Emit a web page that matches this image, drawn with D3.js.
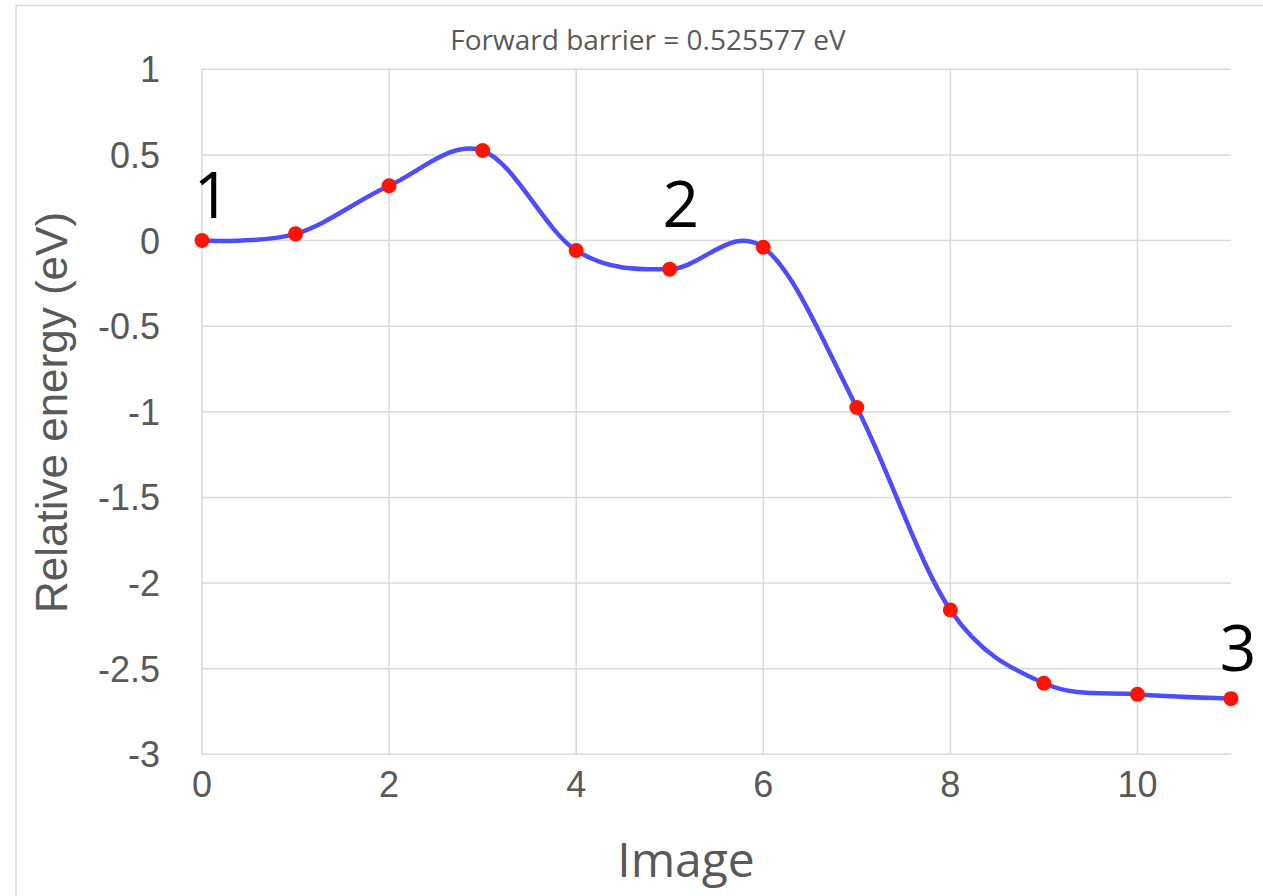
<!DOCTYPE html>
<html>
<head>
<meta charset="utf-8">
<script src="https://cdn.jsdelivr.net/npm/d3@7"></script>
<style>
  body { margin: 0; background: #fff; }
  svg { display: block; }
</style>
</head>
<body>
<svg id="chart" width="1263" height="896"></svg>
<script>
// image index along the path and relative energy (eV)
const images = [0, 1, 2, 3, 4, 5, 6, 7, 8, 9, 10, 11];
const energies = [0, 0.039, 0.32, 0.525577, -0.058, -0.167, -0.039, -0.975, -2.157, -2.585, -2.65, -2.675];
const xTicks = [0, 2, 4, 6, 8, 10];
const yTicks = [1, 0.5, 0, -0.5, -1, -1.5, -2, -2.5, -3];
const markImages = [0, 5, 11];
const markLabels = ["1", "2", "3"];
const chartTitle = "Forward barrier = 0.525577 eV";

function drawChart() {
	let svg = d3.select("#chart");
	let grid = "#d9d9d9";
	let textGrey = "#595959";

	let x = d3.scaleLinear().domain([0, 11]).range([202, 1231]);
	let y = d3.scaleLinear().domain([-3, 1]).range([754.3, 69.3]);

	// outer chart border (right and bottom run off the picture)
	svg.append("rect")
		.attr("x", 16).attr("y", 5.5)
		.attr("width", 1300).attr("height", 1000)
		.attr("fill", "none")
		.attr("stroke", grid)
		.attr("stroke-width", 1.5);

	// horizontal gridlines
	svg.append("g")
		.selectAll("line")
		.data(yTicks)
		.join("line")
			.attr("x1", x(0)).attr("x2", x(11))
			.attr("y1", d => y(d)).attr("y2", d => y(d))
			.attr("stroke", grid)
			.attr("stroke-width", 1.5);

	// vertical gridlines
	svg.append("g")
		.selectAll("line")
		.data(xTicks)
		.join("line")
			.attr("x1", d => x(d)).attr("x2", d => x(d))
			.attr("y1", y(1)).attr("y2", y(-3))
			.attr("stroke", grid)
			.attr("stroke-width", 1.5);

	// y tick labels
	svg.append("g")
		.selectAll("text")
		.data(yTicks)
		.join("text")
			.attr("x", 160)
			.attr("y", d => y(d))
			.attr("dy", "0.36em")
			.attr("text-anchor", "end")
			.attr("font-family", "'Liberation Sans', Arial, sans-serif")
			.attr("font-size", 36)
			.attr("fill", textGrey)
			.text(d => d);

	// x tick labels
	svg.append("g")
		.selectAll("text")
		.data(xTicks)
		.join("text")
			.attr("x", d => x(d))
			.attr("y", 797)
			.attr("text-anchor", "middle")
			.attr("font-family", "'Liberation Sans', Arial, sans-serif")
			.attr("font-size", 36)
			.attr("fill", textGrey)
			.text(d => d);

	// titles
	svg.append("text")
		.attr("x", 648).attr("y", 50)
		.attr("text-anchor", "middle")
		.attr("font-family", "'Open Sans', sans-serif")
		.attr("font-size", 28)
		.attr("fill", textGrey)
		.text(chartTitle);

	svg.append("text")
		.attr("x", 686).attr("y", 877)
		.attr("text-anchor", "middle")
		.attr("font-family", "'Open Sans', sans-serif")
		.attr("font-size", 48)
		.attr("fill", textGrey)
		.text("Image");

	svg.append("text")
		.attr("transform", "translate(67,412.5) rotate(-90)")
		.attr("text-anchor", "middle")
		.attr("font-family", "'Liberation Sans', Arial, sans-serif")
		.attr("font-size", 44)
		.attr("fill", textGrey)
		.text("Relative energy (eV)");

	let pts = images.map((d, i) => [d, energies[i]]);

	// smoothed line (Excel style smoothing ~ uniform Catmull-Rom)
	let line = d3.line()
		.x(d => x(d[0]))
		.y(d => y(d[1]))
		.curve(d3.curveCatmullRom.alpha(0));

	svg.append("path")
		.datum(pts)
		.attr("d", line)
		.attr("fill", "none")
		.attr("stroke", "#4d4dff")
		.attr("stroke-width", 4.5);

	svg.append("g")
		.selectAll("circle")
		.data(pts)
		.join("circle")
			.attr("cx", d => x(d[0]))
			.attr("cy", d => y(d[1]))
			.attr("r", 7.5)
			.attr("fill", "#ff1400");

	// state labels 1, 2, 3
	svg.append("g")
		.selectAll("text")
		.data(markImages)
		.join("text")
			.attr("x", (d, i) => x(d) + [10, 11, 7][i])
			.attr("y", (d, i) => y(energies[d]) - [23, 42, 28][i])
			.attr("text-anchor", "middle")
			.attr("font-family", "'Open Sans', sans-serif")
			.attr("font-size", 64)
			.attr("fill", "#000")
			.text((d, i) => markLabels[i]);
}

whenReady(drawChart);

function whenReady(action) {
	if (document.readyState === "loading") {
		document.addEventListener("DOMContentLoaded", action);
	} else {
		action();
	}
}
</script>
</body>
</html>
